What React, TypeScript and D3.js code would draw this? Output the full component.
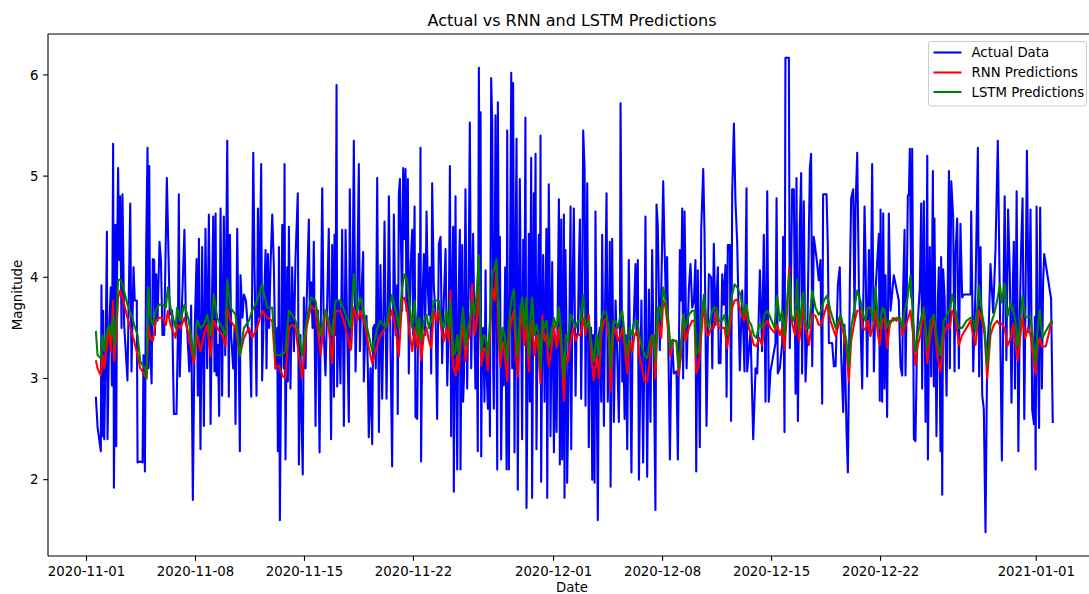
import * as d3 from 'd3';

// ── Chart data: days since 2020-11-01 (UTC) and magnitude ──
const seriesNames = ['Actual Data', 'RNN Predictions', 'LSTM Predictions'];
const seriesColors = ['#0000ff', '#ff0000', '#008000'];

const xTickDates = ['2020-11-01', '2020-11-08', '2020-11-15', '2020-11-22', '2020-12-01', '2020-12-08', '2020-12-15', '2020-12-22', '2021-01-01'];
const yTicks = [2, 3, 4, 5, 6];

// [day, magnitude]
const actualSeries: [number, number][] = [
  [0.60,2.82],[0.71,2.52],[0.92,2.28],[0.96,3.92],[1.03,2.43],[1.07,3.67],[1.14,2.40],[1.24,3.43],[1.31,4.45],[1.35,2.40],
  [1.46,3.50],[1.56,3.90],[1.63,2.93],[1.71,5.32],[1.76,1.92],[1.82,3.10],[1.86,4.52],[1.91,2.33],[1.97,4.27],[2.03,5.08],
  [2.10,4.17],[2.16,4.80],[2.25,3.50],[2.31,4.82],[2.42,3.53],[2.63,2.98],[2.81,4.73],[2.89,3.07],[3.02,4.10],[3.10,3.77],
  [3.23,3.77],[3.28,2.17],[3.45,2.18],[3.60,2.17],[3.66,3.23],[3.75,2.08],[3.83,4.27],[3.92,5.28],[3.98,3.10],[4.03,5.10],
  [4.09,3.30],[4.18,2.95],[4.26,4.18],[4.35,4.17],[4.39,3.43],[4.48,4.03],[4.56,3.57],[4.69,4.35],[4.78,4.17],[4.88,3.43],
  [4.99,3.43],[5.16,4.98],
  [5.35,3.63],[5.50,3.67],[5.61,2.65],[5.78,2.65],[5.87,3.43],[5.93,4.82],[5.99,3.02],[6.08,3.50],[6.17,3.90],[6.29,4.47],
  [6.38,3.60],[6.47,3.47],[6.60,3.07],[6.72,3.72],[6.83,1.80],[6.94,3.43],[7.07,4.18],[7.15,2.83],[7.22,4.38],[7.32,2.30],
  [7.43,4.30],[7.54,2.53],[7.64,4.48],[7.75,3.10],[7.86,4.62],[7.97,2.55],[8.07,3.90],[8.14,4.60],[8.22,3.07],[8.29,4.63],
  [8.35,3.03],[8.44,3.33],[8.52,2.63],[8.61,4.68],[8.71,2.83],[8.82,4.60],[8.91,3.23],[9.04,5.35],[9.14,2.82],[9.21,4.42],
  [9.29,3.43],[9.42,3.10],[9.51,3.50],[9.57,2.55],[9.68,4.48],[9.76,3.43],[9.85,2.28],[9.89,4.02],[10.02,3.60],[10.11,3.83],
  [10.24,3.77],[10.36,3.50],[10.49,3.43],[10.58,2.82],[10.71,5.23],[10.79,4.10],[10.92,2.83],[11.01,4.68],[11.09,3.60],[11.22,5.12],
  [11.28,2.98],[11.39,3.67],[11.50,4.27],[11.56,3.10],[11.65,4.23],[11.73,3.50],[11.82,4.13],[11.93,4.62],[12.03,4.13],[12.14,3.10],
  [12.25,3.50],[12.29,2.28],[12.36,4.30],[12.42,1.60],
  [12.57,4.52],[12.67,3.10],[12.72,5.12],[12.78,2.20],[12.89,4.10],[12.93,2.97],[13.00,4.50],[13.10,2.90],[13.21,4.10],[13.32,3.27],
  [13.42,4.17],[13.57,4.83],[13.64,2.15],[13.74,3.43],[13.79,2.73],[13.89,2.05],[13.96,3.80],[14.07,3.10],[14.13,3.70],[14.28,4.57],
  [14.34,3.67],[14.43,3.95],[14.52,3.50],[14.60,4.35],[14.71,2.53],[14.77,3.60],[14.86,3.67],[14.97,2.27],[15.03,3.30],[15.14,4.88],
  [15.24,3.43],[15.35,3.03],[15.46,3.77],[15.56,4.48],[15.63,3.57],[15.71,2.40],[15.78,4.32],[15.89,2.82],[15.93,4.42],[15.99,3.43],
  [16.06,5.90],[16.10,2.92],[16.21,3.77],[16.31,2.95],[16.42,4.47],[16.53,2.53],[16.64,4.47],[16.74,3.50],[16.85,2.57],[16.91,4.87],
  [17.00,3.30],[17.09,3.90],[17.17,5.35],[17.28,3.07],[17.39,3.90],[17.49,5.12],[17.56,3.27],[17.64,3.77],[17.77,4.25],[17.81,2.97],
  [17.90,3.43],[17.98,3.62],[18.07,3.10],[18.13,2.42],[18.24,3.10],[18.35,2.35],[18.41,3.50],[18.50,3.53],[18.58,3.10],[18.67,4.98],
  [18.78,2.47],[18.88,4.12],[18.99,2.80],[19.06,3.50],[19.14,4.55],[19.27,2.80],[19.36,3.77],[19.42,4.80],[19.53,3.27],[19.63,2.13],
  [19.74,4.62],[19.85,3.43],[19.95,3.92],[19.99,2.65],[20.06,4.82],[20.13,4.97],
  [20.27,3.67],[20.34,5.08],[20.42,4.38],[20.49,5.07],[20.55,3.67],[20.64,4.97],[20.70,3.05],[20.81,4.10],[20.92,4.47],[20.98,3.43],
  [21.07,4.70],[21.13,2.62],[21.24,2.60],[21.34,4.23],[21.41,3.43],[21.45,5.28],[21.49,2.18],[21.58,3.77],[21.67,4.23],[21.75,3.43],
  [21.84,4.65],[21.92,3.90],[21.99,3.63],[22.05,4.10],[22.14,3.05],[22.20,4.93],[22.31,3.90],[22.42,3.63],[22.52,2.60],[22.63,4.33],
  [22.74,4.40],[22.84,3.15],[22.95,3.77],[23.06,4.28],[23.17,2.93],[23.27,3.57],[23.34,5.10],[23.42,2.43],[23.49,3.93],[23.55,4.50],
  [23.59,1.88],[23.66,3.43],[23.70,4.80],[23.76,3.10],[23.81,2.10],[23.89,3.77],[23.98,4.47],[24.02,2.10],[24.09,3.43],[24.13,4.32],
  [24.19,2.77],[24.24,3.00],[24.34,4.87],[24.41,3.43],[24.45,2.90],[24.54,3.93],[24.62,5.53],[24.71,3.10],[24.77,3.77],[24.83,4.43],
  [24.92,3.43],[24.98,2.90],[25.05,3.77],[25.13,2.28],[25.20,6.07],[25.26,4.10],[25.31,5.63],[25.35,2.23],[25.41,3.43],[25.48,3.50],
  [25.56,2.77],[25.63,4.07],[25.69,3.10],[25.78,2.70],[25.86,3.43],[25.91,2.43],[25.99,5.97],[26.06,5.53],[26.12,3.10],[26.16,2.70],
  [26.27,5.60],[26.33,3.43],[26.38,2.10],[26.42,5.73],[26.48,3.77],[26.55,4.40],[26.63,2.20],[26.72,3.43],[26.80,2.93],[26.89,4.10],
  [26.98,2.10],[27.02,5.45],[27.06,3.43],[27.13,2.10],[27.19,3.77],[27.28,6.02],[27.34,3.10],[27.40,5.92],[27.49,2.27],[27.55,4.10],
  [27.62,5.37],[27.70,1.90],[27.77,3.77],[27.83,4.97],
  [27.98,2.40],[28.05,4.37],[28.13,3.43],[28.19,5.58],[28.26,1.72],[28.35,3.43],[28.41,4.43],[28.47,2.77],[28.56,5.18],[28.62,1.82],
  [28.73,4.83],[28.77,3.43],[28.84,5.22],[28.90,2.30],[28.99,3.77],[29.05,4.42],[29.12,3.10],[29.16,5.40],[29.20,1.98],[29.27,3.43],
  [29.33,4.22],[29.42,2.77],[29.48,3.77],[29.54,4.48],[29.59,1.82],[29.65,3.43],[29.69,4.92],[29.76,3.77],[29.80,2.43],[29.91,4.15],
  [29.97,3.10],[30.02,2.27],[30.10,3.43],[30.19,2.47],[30.27,3.77],[30.34,4.77],[30.40,2.15],[30.49,4.57],[30.55,2.20],[30.62,3.43],
  [30.66,4.62],[30.70,1.82],[30.76,4.27],[30.83,3.43],[30.87,1.97],[30.98,3.05],[31.09,4.70],[31.13,2.30],[31.21,3.77],[31.30,4.68],
  [31.41,2.83],[31.47,3.43],[31.56,3.45],[31.62,4.10],[31.69,4.57],[31.77,2.80],[31.84,3.77],[31.90,5.45],[31.99,5.07],[32.05,2.73],
  [32.16,4.93],[32.26,2.32],[32.33,3.43],[32.41,3.50],[32.48,2.00],[32.54,3.43],[32.63,1.97],[32.69,4.65],[32.76,3.10],[32.84,1.60],
  [32.91,3.43],[32.97,3.50],[33.06,2.77],[33.12,4.42],[33.23,2.53],[33.31,3.77],[33.40,4.83],[33.48,2.77],[33.55,3.43],[33.61,4.35],
  [33.66,1.93],[33.76,4.38],[33.87,2.57],[33.98,3.77],[34.08,3.27],[34.19,2.57],[34.26,3.43],[34.30,5.72],[34.41,2.97],[34.47,3.43],
  [34.56,2.60],[34.64,3.43],[34.73,2.30],[34.83,4.17],[34.90,3.43],[35.00,2.07],[35.07,3.43],[35.15,3.57],[35.26,4.13],[35.33,3.43],
  [35.41,4.17],[35.48,2.00],
  [35.64,3.77],[35.75,2.17],[35.84,3.43],[35.90,4.60],[36.01,2.03],[36.12,3.88],[36.22,2.57],[36.33,4.27],[36.44,3.10],[36.54,1.70],
  [36.61,4.72],[36.69,4.52],[36.82,3.28],[36.91,3.83],[37.04,4.95],[37.12,4.33],[37.21,3.77],[37.29,4.20],[37.47,2.20],[37.55,3.10],
  [37.62,3.38],[37.72,3.05],[37.89,3.07],[37.98,2.20],[38.11,4.27],[38.19,3.77],[38.26,4.68],[38.32,3.00],[38.41,4.65],[38.54,3.10],
  [38.69,3.90],[38.79,4.13],[38.90,3.70],[39.01,3.77],[39.11,4.17],[39.16,2.08],[39.26,4.07],[39.33,3.10],[39.39,2.32],[39.48,4.47],
  [39.61,5.07],[39.69,4.47],[39.82,2.53],[39.97,4.03],[40.12,4.00],[40.19,3.10],[40.29,4.33],[40.40,3.53],[40.55,4.10],[40.61,3.15],
  [40.72,3.15],[40.83,4.03],[40.93,3.73],[41.04,4.12],[41.11,2.82],[41.19,4.32],[41.32,4.32],[41.40,2.58],[41.47,4.83],[41.58,5.52],
  [41.68,4.75],[41.79,4.35],[41.96,3.08],[42.11,3.87],[42.26,3.07],[42.39,4.88],[42.43,3.07],[42.65,3.47],[42.82,2.40],[42.97,3.10],
  [43.08,3.05],[43.25,4.07],
  [43.39,3.27],[43.50,4.42],[43.61,2.77],[43.72,4.85],[43.82,2.77],[43.93,3.07],[44.25,3.35],[44.32,4.78],[44.40,3.05],[44.53,3.10],
  [44.68,3.35],[44.74,4.40],[44.83,2.47],[44.89,6.17],[45.11,6.17],[45.17,3.30],[45.26,4.10],[45.32,4.87],[45.43,4.87],[45.54,2.85],
  [45.60,4.98],[45.69,2.58],[45.81,4.50],[45.90,5.03],[45.96,3.05],[46.07,4.75],[46.18,2.97],[46.29,3.40],[46.46,5.08],[46.54,5.22],
  [46.61,3.12],[46.71,4.40],[46.82,4.27],[46.93,4.13],[47.03,3.97],[47.14,4.17],[47.25,2.75],[47.31,4.82],[47.53,4.82],[47.61,4.32],
  [47.68,3.35],[47.89,3.35],[48.00,3.12],[48.11,3.12],[48.26,3.93],[48.38,4.10],[48.47,3.23],[48.60,2.67],[48.68,3.53],[48.81,2.50],
  [48.90,2.07],[49.03,3.98],[49.11,4.78],[49.24,4.87],[49.33,3.57],[49.39,4.68],[49.50,5.23],[49.61,3.87],[49.71,3.57],[49.82,2.90],
  [49.97,4.70],[50.03,4.25],[50.14,3.02],[50.25,4.27],[50.35,3.42],[50.46,5.12],[50.57,3.07],[50.68,3.88],[50.89,4.43],[50.95,2.78],
  [51.00,4.67],[51.10,2.77],[51.17,4.63],[51.25,2.90],[51.32,4.02],[51.42,2.62],[51.53,4.63],[51.64,3.67],[51.85,4.02],[52.17,3.77],
  [52.28,3.12],[52.39,3.03],[52.45,3.87],[52.54,4.47],[52.60,3.03],[52.67,3.67],[52.75,4.80],[52.82,4.83],[52.88,5.27],[52.97,3.80],
  [53.03,5.27],[53.14,2.40],[53.24,2.38],[53.35,3.45],[53.52,3.90],[53.61,4.73],[53.67,2.90],[53.78,4.75],[53.89,2.57],[54.00,5.20],
  [54.04,2.20],[54.16,4.30],[54.25,3.02],[54.36,5.05],[54.42,2.92],[54.46,4.58],[54.59,2.43],[54.68,3.77],[54.74,4.10],[54.85,2.28],
  [54.89,4.20],[54.96,1.85],[55.02,4.08],[55.11,3.80],[55.24,2.83],[55.39,5.05],[55.45,3.10],[55.54,4.95],[55.66,4.60],[55.75,3.07],
  [55.81,4.23],[55.92,4.58],[56.03,3.10],[56.13,4.53],[56.24,3.80],[56.35,3.83],[56.78,3.83],[56.82,4.65],[56.95,3.07],[57.10,3.90],
  [57.25,5.28],[57.33,3.02],[57.42,4.30],[57.53,2.83],[57.63,2.70],[57.74,1.48],[57.85,3.30],[57.95,3.53],[58.06,4.13],[58.23,3.65],
  [58.38,4.27],[58.53,5.35],
  [58.79,2.19],[58.88,3.61],[58.97,4.80],[59.08,3.18],[59.19,4.67],[59.30,4.03],[59.41,2.76],[59.50,3.96],[59.56,4.35],[59.63,2.90],
  [59.74,4.85],[59.85,2.28],[59.94,3.61],[60.03,4.31],[60.12,4.78],[60.23,2.60],[60.32,3.96],[60.40,5.25],[60.52,3.46],[60.63,4.67],
  [60.74,2.69],[60.85,2.55],[60.91,3.61],[60.96,2.10],[61.02,4.70],[61.11,3.25],[61.18,2.51],[61.25,4.69],[61.36,2.90],[61.44,3.96],
  [61.51,4.23],[61.95,3.79],[62.06,2.56],
];

// [day, RNN prediction, LSTM prediction]
const predictionSeries: [number, number, number][] = [
  [0.60,3.18,3.47],[0.71,3.10,3.23],[0.92,3.03,3.20],[1.03,3.23,3.43],[1.14,3.10,3.27],[1.31,3.33,3.47],[1.46,3.50,3.53],[1.56,3.27,3.43],
  [1.71,3.77,3.60],[1.78,3.17,3.33],[1.91,3.43,3.57],[2.03,3.80,3.97],[2.16,3.87,3.98],[2.31,3.80,3.93],[2.63,3.60,3.73],[2.95,3.43,3.60],
  [3.06,3.37,3.53],[3.28,3.23,3.43],[3.45,3.10,3.17],[3.60,3.07,3.13],[3.75,3.03,3.10],[3.85,3.00,3.00],[3.98,3.53,3.90],[4.09,3.40,3.60],
  [4.26,3.37,3.53],[4.45,3.57,3.67],[4.67,3.60,3.73],[4.88,3.60,3.73],[5.10,3.53,3.70],
  [5.22,3.67,3.90],[5.40,3.53,3.70],[5.72,3.40,3.50],[5.82,3.53,3.70],[6.04,3.50,3.57],[6.29,3.60,3.73],[6.57,3.43,3.57],[6.89,3.15,3.23],
  [7.11,3.43,3.57],[7.32,3.27,3.50],[7.54,3.43,3.53],[7.75,3.53,3.63],[7.97,3.22,3.43],[8.18,3.57,3.83],[8.39,3.50,3.60],[8.71,3.43,3.50],
  [8.93,3.32,3.43],[9.04,3.70,3.98],[9.25,3.57,3.70],[9.57,3.50,3.63],[9.85,3.23,3.22],[10.11,3.40,3.50],[10.43,3.50,3.57],[10.64,3.40,3.67],
  [10.96,3.50,3.77],[11.28,3.67,3.93],[11.60,3.60,3.70],[11.93,3.57,3.70],[12.14,3.10,3.23],[12.36,3.13,3.23],
  [12.57,3.03,3.23],[12.78,3.00,3.27],[13.00,3.50,3.67],[13.21,3.53,3.63],[13.42,3.50,3.57],[13.64,3.23,3.43],[13.85,3.00,3.23],[14.13,3.50,3.57],
  [14.43,3.72,3.80],[14.71,3.67,3.77],[15.03,3.23,3.43],[15.35,3.68,3.67],[15.56,3.50,3.57],[15.78,3.15,3.43],[15.99,3.67,3.77],[16.31,3.67,3.77],
  [16.64,3.50,3.63],[16.96,3.28,3.50],[17.17,3.70,4.03],[17.39,3.57,3.67],[17.60,3.67,3.80],[17.92,3.50,3.57],[18.13,3.30,3.43],[18.35,3.15,3.27],
  [18.67,3.33,3.50],[18.88,3.43,3.57],[19.20,3.50,3.50],[19.42,3.57,3.67],[19.63,3.67,3.83],[19.85,3.50,3.67],[20.06,3.22,3.50],
  [20.27,3.77,3.90],[20.42,3.80,4.03],[20.60,3.67,3.97],[20.77,3.43,3.70],[20.92,3.27,3.50],[21.07,3.50,3.77],[21.24,3.30,3.43],[21.37,3.53,3.60],
  [21.49,3.18,3.37],[21.67,3.43,3.57],[21.84,3.50,3.63],[21.99,3.37,3.50],[22.14,3.30,3.57],[22.31,3.67,3.77],[22.48,3.57,3.77],[22.63,3.67,3.77],
  [22.78,3.50,3.57],[22.95,3.37,3.50],[23.12,3.50,3.67],[23.27,3.37,3.50],[23.38,3.87,3.77],[23.49,3.23,3.43],[23.59,3.10,3.23],[23.70,3.03,3.27],
  [23.81,3.23,3.43],[23.91,3.08,3.23],[24.06,3.37,3.50],[24.19,3.53,3.70],[24.34,3.17,3.33],[24.49,3.37,3.50],[24.62,3.43,3.57],[24.77,3.93,3.77],
  [24.92,3.43,3.63],[25.05,3.53,3.83],[25.20,3.90,4.22],[25.35,3.13,3.27],[25.52,3.30,3.43],[25.65,3.27,3.40],[25.78,3.08,3.23],[25.91,3.43,3.57],
  [26.06,3.90,4.03],[26.21,3.77,4.10],[26.33,4.13,4.18],[26.46,3.43,3.70],[26.59,3.12,3.27],[26.72,3.37,3.50],[26.85,3.27,3.43],[27.02,2.97,3.17],
  [27.15,3.43,3.57],[27.28,3.57,3.77],[27.45,3.67,3.88],[27.58,3.23,3.43],[27.70,3.02,3.23],[27.83,3.43,3.60],
  [27.98,3.70,3.80],[28.13,3.33,3.50],[28.26,3.53,3.80],[28.41,3.07,3.23],[28.52,3.43,3.57],[28.62,3.57,3.80],[28.77,3.23,3.43],[28.90,3.43,3.53],
  [29.05,3.23,3.43],[29.16,2.95,3.10],[29.27,3.62,3.57],[29.42,3.37,3.50],[29.54,3.43,3.57],[29.69,3.12,3.30],[29.84,3.27,3.43],[30.02,3.53,3.60],
  [30.19,3.30,3.50],[30.34,3.50,3.70],[30.49,3.30,3.43],[30.66,2.78,3.00],[30.79,3.23,3.43],[30.92,3.17,3.37],[31.09,3.37,3.63],[31.26,3.50,3.57],
  [31.41,3.37,3.50],[31.56,3.43,3.57],[31.73,3.43,3.57],[31.90,3.60,3.83],[32.05,3.43,3.50],[32.26,3.63,3.57],[32.41,3.23,3.37],[32.58,2.98,3.17],
  [32.76,3.23,3.43],[32.91,3.00,3.23],[33.06,3.43,3.57],[33.23,3.57,3.67],[33.40,3.60,3.63],[33.55,3.37,3.50],[33.66,2.87,3.10],[33.83,3.43,3.57],
  [33.98,3.50,3.57],[34.13,3.37,3.50],[34.30,3.43,3.63],[34.41,3.50,3.67],[34.56,3.33,3.43],[34.73,3.05,3.23],[34.90,3.37,3.50],[35.05,3.27,3.43],
  [35.20,3.43,3.57],[35.37,3.47,3.57],[35.50,3.23,3.43],
  [35.69,3.10,3.30],[35.84,2.97,3.23],[36.01,2.97,3.20],[36.18,3.17,3.37],[36.33,3.43,3.43],[36.44,3.43,3.40],[36.54,3.00,3.17],[36.69,3.57,3.70],
  [36.82,3.50,3.70],[36.91,3.40,3.57],[37.04,3.77,3.90],[37.19,3.70,3.77],[37.34,3.50,3.63],[37.51,3.22,3.30],[37.68,3.37,3.38],[37.89,3.37,3.37],
  [38.04,3.03,3.10],[38.19,3.23,3.37],[38.32,3.63,3.63],[38.47,3.37,3.50],[38.69,3.50,3.63],[38.90,3.57,3.67],[39.05,3.57,3.67],[39.16,3.05,3.23],
  [39.33,3.13,3.30],[39.48,3.43,3.57],[39.65,3.73,3.83],[39.82,3.43,3.57],[39.97,3.43,3.50],[40.12,3.50,3.63],[40.29,3.50,3.70],[40.46,3.67,3.70],
  [40.61,3.50,3.57],[40.83,3.50,3.57],[40.98,3.50,3.63],[41.15,3.30,3.43],[41.32,3.50,3.63],[41.47,3.70,3.83],[41.62,3.77,3.93],[41.79,3.78,3.90],
  [42.00,3.67,3.83],[42.22,3.57,3.63],[42.39,3.67,3.73],[42.54,3.50,3.57],[42.69,3.43,3.53],[42.86,3.33,3.43],[43.03,3.32,3.40],[43.20,3.40,3.53],
  [43.39,3.33,3.50],[43.54,3.53,3.63],[43.72,3.57,3.67],[43.93,3.50,3.60],[44.19,3.45,3.50],[44.36,3.53,3.82],[44.53,3.43,3.57],[44.68,3.50,3.67],
  [44.83,3.28,3.43],[45.00,3.67,3.77],[45.13,4.10,4.03],[45.26,3.60,3.63],[45.39,3.50,3.57],[45.51,3.43,3.63],[45.64,3.67,3.98],[45.77,3.37,3.50],
  [45.90,3.50,3.67],[46.03,3.77,3.85],[46.16,3.50,3.57],[46.29,3.43,3.50],[46.41,3.33,3.50],[46.61,3.63,3.87],[46.82,3.62,3.70],[47.03,3.53,3.63],
  [47.18,3.53,3.67],[47.36,3.63,3.77],[47.57,3.73,3.82],[47.78,3.57,3.67],[48.11,3.42,3.50],[48.43,3.60,3.63],[48.64,3.43,3.50],[48.81,3.30,3.37],
  [48.96,2.97,3.13],[49.11,3.37,3.50],[49.33,3.57,3.70],[49.50,3.67,3.87],[49.71,3.67,3.77],[49.88,3.50,3.63],[50.03,3.48,3.57],[50.18,3.57,3.70],
  [50.35,3.43,3.70],[50.52,3.50,3.57],[50.68,3.67,3.90],[50.83,3.43,3.57],[50.95,3.33,3.50],
  [51.10,3.57,3.70],[51.25,3.60,3.67],[51.42,3.30,3.50],[51.59,3.53,3.57],[51.81,3.60,3.57],[52.02,3.57,3.60],[52.24,3.60,3.60],[52.39,3.43,3.50],
  [52.54,3.50,3.67],[52.71,3.57,3.77],[52.92,3.67,4.02],[53.09,3.43,3.57],[53.24,3.13,3.27],[53.39,3.33,3.43],[53.56,3.43,3.57],[53.78,3.70,3.70],
  [54.00,3.15,3.30],[54.21,3.43,3.57],[54.42,3.60,3.63],[54.64,3.23,3.37],[54.85,3.07,3.23],[55.06,3.43,3.57],[55.28,3.53,3.63],[55.45,3.50,3.67],
  [55.60,3.67,3.83],[55.81,3.60,3.67],[56.03,3.33,3.50],[56.24,3.43,3.50],[56.52,3.50,3.57],[56.78,3.57,3.60],[56.95,3.43,3.57],[57.10,3.33,3.47],
  [57.31,3.67,3.92],[57.53,3.57,3.63],[57.68,3.43,3.50],[57.85,3.00,3.13],[58.06,3.43,3.53],[58.28,3.53,3.63],[58.49,3.57,3.77],[58.66,3.53,3.93],
  [58.79,3.54,3.75],[58.97,3.50,3.94],[59.14,3.32,3.61],[59.36,3.40,3.75],[59.52,3.54,3.68],[59.68,3.32,3.54],[59.81,3.18,3.32],[59.96,3.40,3.54],
  [60.12,3.61,3.82],[60.29,3.40,3.61],[60.47,3.50,3.61],[60.63,3.43,3.61],[60.78,3.25,3.40],[60.96,3.04,3.15],[61.09,3.32,3.50],[61.22,3.40,3.68],
  [61.40,3.31,3.40],[61.62,3.32,3.47],[61.95,3.54,3.56],[62.06,3.56,3.56],
];

const W = 1089;
const H = 594;
const plotLeft = 48;
const plotTop = 34;
const plotBottom = 556;
const pxPerDay = 15.57;
const FONT = 'DejaVu Sans, Liberation Sans, sans-serif';
const LABEL_SIZE = 13.3;

const baseMs = Date.UTC(2020, 10, 1);
const toDate = (d: number) => new Date(baseMs + d * 86400000);
const parseDay = d3.utcParse('%Y-%m-%d');

export default function App() {
  // matplotlib-like 5% margins around the data extent
  const [d0, d1] = d3.extent(actualSeries, d => d[0]) as [number, number];
  const [m0, m1] = d3.extent(actualSeries, d => d[1]) as [number, number];
  const dPad = (d1 - d0) * 0.05;
  const mPad = (m1 - m0) * 0.05;
  const dMin = d0 - dPad;
  const dMax = d1 + dPad;
  const plotRight = plotLeft + (dMax - dMin) * pxPerDay;

  const x = d3.scaleUtc().domain([toDate(dMin), toDate(dMax)]).range([plotLeft, plotRight]);
  const y = d3.scaleLinear().domain([m0 - mPad, m1 + mPad]).range([plotBottom, plotTop]);

  const lineActual = d3.line<[number, number]>()
    .x(d => x(toDate(d[0])))
    .y(d => y(d[1]));
  const lineRnn = d3.line<[number, number, number]>()
    .x(d => x(toDate(d[0])))
    .y(d => y(d[1]));
  const lineLstm = d3.line<[number, number, number]>()
    .x(d => x(toDate(d[0])))
    .y(d => y(d[2]));

  const tickLen = 4.86;
  const legendX = 928.5;
  const legendY = 41.5;
  const legendRows = [52.5, 72.5, 92];

  return (
    <svg width={W} height={H} style={{ position: 'absolute', left: 0, top: 0, background: '#fff' }}
      fontFamily={FONT}>
      <rect x={0} y={0} width={W} height={H} fill="#fff" />

      {/* series */}
      <g fill="none" strokeWidth={2.08} strokeLinejoin="round">
        <path d={lineActual(actualSeries) || ''} stroke={seriesColors[0]} />
        <path d={lineRnn(predictionSeries) || ''} stroke={seriesColors[1]} />
        <path d={lineLstm(predictionSeries) || ''} stroke={seriesColors[2]} />
      </g>

      {/* spines */}
      <g stroke="#000" strokeWidth={1.1} fill="none">
        <line x1={plotLeft} x2={plotLeft} y1={plotTop} y2={plotBottom} />
        <line x1={plotLeft} x2={plotRight} y1={plotBottom} y2={plotBottom} />
        <line x1={plotLeft} x2={plotRight} y1={plotTop} y2={plotTop} />
        <line x1={plotRight} x2={plotRight} y1={plotTop} y2={plotBottom} />
      </g>

      {/* x axis */}
      {xTickDates.map(s => {
        const px = x(parseDay(s) as Date);
        return (
          <g key={s}>
            <line x1={px} x2={px} y1={plotBottom} y2={plotBottom + tickLen} stroke="#000" strokeWidth={1.1} />
            <text x={px} y={plotBottom + 20} textAnchor="middle" fontSize={LABEL_SIZE} fill="#000">{s}</text>
          </g>
        );
      })}
      <text x={572} y={592} textAnchor="middle" fontSize={LABEL_SIZE} fill="#000">Date</text>

      {/* y axis */}
      {yTicks.map(t => (
        <g key={t}>
          <line x1={plotLeft - tickLen} x2={plotLeft} y1={y(t)} y2={y(t)} stroke="#000" strokeWidth={1.1} />
          <text x={plotLeft - 9.5} y={y(t)} dy="0.36em" textAnchor="end" fontSize={LABEL_SIZE} fill="#000">{t}</text>
        </g>
      ))}
      <text transform={`translate(22,${(plotTop + plotBottom) / 2}) rotate(-90)`} textAnchor="middle" fontSize={LABEL_SIZE} fill="#000">Magnitude</text>

      {/* title */}
      <text x={572} y={26} textAnchor="middle" fontSize={16} fill="#000">Actual vs RNN and LSTM Predictions</text>

      {/* legend */}
      <rect x={legendX} y={legendY} width={158} height={64.5} rx={2.5} fill="#fff" fillOpacity={0.8} stroke="#cccccc" strokeWidth={1} />
      {seriesNames.map((n, i) => (
        <g key={n}>
          <line x1={933.5} x2={961.5} y1={legendRows[i]} y2={legendRows[i]} stroke={seriesColors[i]} strokeWidth={2.08} />
          <text x={971.5} y={legendRows[i]} dy="0.36em" fontSize={LABEL_SIZE} fill="#000">{n}</text>
        </g>
      ))}
    </svg>
  );
}
